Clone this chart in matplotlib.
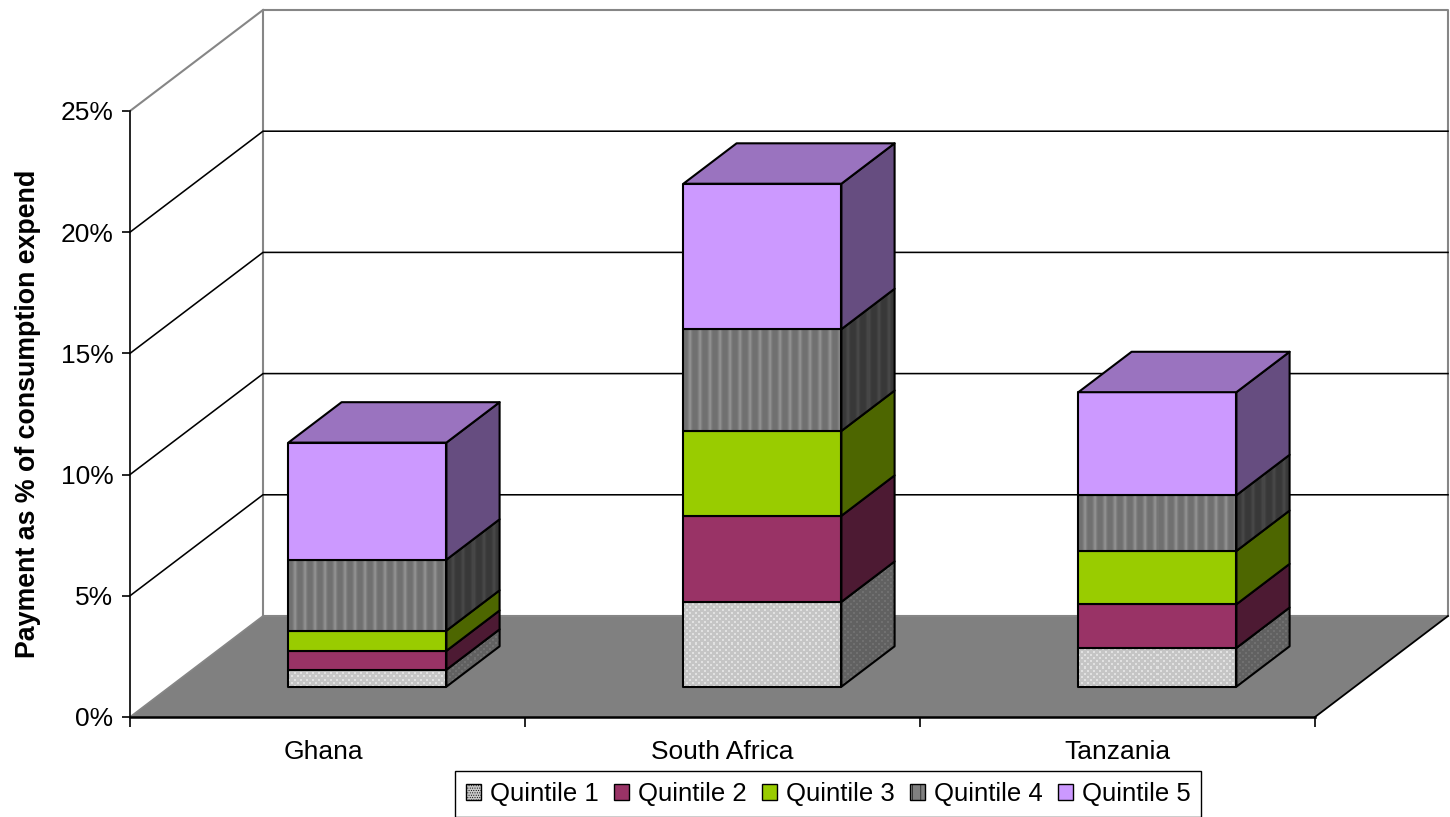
import numpy as np
import matplotlib
matplotlib.use("Agg")
import matplotlib.pyplot as plt
from matplotlib.patches import Patch, Polygon

plt.rcParams['font.family'] = ['Liberation Sans', 'DejaVu Sans']
plt.rcParams['hatch.linewidth'] = 0.4

countries = ["Ghana", "South Africa", "Tanzania"]
quintiles = ["Quintile 1", "Quintile 2", "Quintile 3", "Quintile 4", "Quintile 5"]
q1 = [0.7, 3.5, 1.6]
q2 = [0.78, 3.55, 1.8]
q3 = [0.83, 3.5, 2.2]
q4 = [2.93, 4.2, 2.3]
q5 = [4.83, 6.0, 4.25]
yticks = [0, 5, 10, 15, 20, 25]

# front, side, top colours of each series
front = ["#c8c8c8", "#993366", "#99cc00", "#808080", "#cc99ff"]
side = ["#646464", "#4d1a33", "#4d6600", "#404040", "#664d80"]
top = ["#969696", "#732650", "#739900", "#606060", "#9a73bf"]

# oblique depth of the fake 3d box, in data units
DX = 0.3367
DY = 4.167

# one period of the stripes in the quintile 4 fill
STRIPE = np.array([0.44, 0.44, 0.44, 0.44, 0.46, 0.50, 0.55, 0.56, 0.50, 0.46])


def proj(x, y, d):
    return x + d * DX, y + d * DY


def texture(h, w, kind, dark):
    yy, xx = np.mgrid[0:h, 0:w]
    if kind == "dots":
        img = np.full((h, w), 0.77)
        img[(yy % 6 < 2) & (xx % 6 < 2)] = 0.88
        img[((yy + 3) % 6 < 2) & ((xx + 3) % 6 < 2)] = 0.88
    else:
        img = STRIPE[xx % 10]
    return img * (0.5 if dark else 1.0)


fig = plt.figure(figsize=(14.5, 8.17), dpi=100)
ax = fig.add_axes([130 / 1450, 100 / 817, 1185 / 1450, 606 / 817])
ax.set_xlim(0, 3)
ax.set_ylim(0, 25)


def face(pts, color, z, kind=None, dark=False):
    if kind:
        px = ax.transData.transform(pts)
        x0, y0 = px.min(axis=0)
        x1, y1 = px.max(axis=0)
        w, h = max(int(x1 - x0), 1), max(int(y1 - y0), 1)
        dmin = np.array(pts).min(axis=0)
        dmax = np.array(pts).max(axis=0)
        im = ax.imshow(texture(h, w, kind, dark), cmap="gray", vmin=0, vmax=1,
                       extent=[dmin[0], dmax[0], dmin[1], dmax[1]], aspect="auto",
                       interpolation="nearest", zorder=z, origin="lower")
        clip = Polygon(pts, closed=True, transform=ax.transData)
        im.set_clip_path(clip)
        im.set_clip_on(True)
        color = "none"
    ax.add_patch(Polygon(pts, closed=True, facecolor=color, edgecolor="black",
                         linewidth=1.5, zorder=z + 0.1, clip_on=False, joinstyle="round"))


# walls and floor
floor = [proj(0, 0, 0), proj(3, 0, 0), proj(3, 0, 1), proj(0, 0, 1)]
ax.add_patch(Polygon(floor, closed=True, facecolor="#808080", edgecolor="none", zorder=1, clip_on=False))
wall_x, wall_y = zip(proj(0, 0, 1), proj(0, 25, 1), proj(3, 25, 1), proj(3, 0, 1), proj(0, 0, 1))
ax.plot(wall_x, wall_y, color="#868686", lw=1.5, zorder=2, clip_on=False)
ax.plot(*zip(proj(0, 25, 0), proj(0, 25, 1)), color="#868686", lw=1.5, zorder=2, clip_on=False)
ax.plot(*zip(proj(0, 0, 0), proj(0, 0, 1)), color="#868686", lw=1.2, zorder=2, clip_on=False)
ax.plot(*zip(proj(3, 0, 0), proj(3, 0, 1)), color="black", lw=1.3, zorder=2, clip_on=False)
for t in yticks[1:-1]:
    ax.plot(*zip(proj(0, t, 0), proj(0, t, 1), proj(3, t, 1)), color="black", lw=1.15, zorder=2, clip_on=False)

# stacked bars, drawn bottom up
series = [q1, q2, q3, q4, q5]
kinds = ["dots", None, None, "stripes", None]
hw = 0.2
d0, d1 = 0.3, 0.7
z = 3
for i in range(len(countries)):
    base = 0.0
    cx = i + 0.5
    for j in range(len(series)):
        v = series[j][i]
        xl, xr = cx - hw, cx + hw
        front_pts = [proj(xl, base, d0), proj(xr, base, d0), proj(xr, base + v, d0), proj(xl, base + v, d0)]
        side_pts = [proj(xr, base, d0), proj(xr, base, d1), proj(xr, base + v, d1), proj(xr, base + v, d0)]
        face(side_pts, side[j], z, kinds[j], True)
        face(front_pts, front[j], z + 1, kinds[j], False)
        z += 2
        base += v
    top_pts = [proj(xl, base, d0), proj(xr, base, d0), proj(xr, base, d1), proj(xl, base, d1)]
    face(top_pts, top[-1], z)
    z += 2

ax.set_xlim(0, 3)
ax.set_ylim(0, 25)
ax.patch.set_alpha(0)
for s in ["top", "right"]:
    ax.spines[s].set_visible(False)
ax.spines["left"].set_linewidth(1.2)
ax.spines["bottom"].set_linewidth(1.8)
ax.set_yticks(yticks)
ax.set_yticklabels([f"{t}%" for t in yticks], fontsize=19)
ax.set_xticks([0, 1, 2, 3])
ax.set_xticklabels([])
ax.set_xticks([0.49, 1.5, 2.5], minor=True)
ax.set_xticklabels(countries, minor=True, fontsize=19)
ax.tick_params(axis="y", length=6, width=1.2, pad=6)
ax.tick_params(axis="x", which="major", length=7, width=1.2)
ax.tick_params(axis="x", which="minor", length=0, pad=16.5)
ax.set_ylabel("Payment as % of consumption expend", fontsize=19.3, fontweight="bold")
ax.yaxis.set_label_coords(-0.0755, 0.5)

handles = [Patch(facecolor=front[0], edgecolor="black", hatch="......."),
           Patch(facecolor=front[1], edgecolor="black"),
           Patch(facecolor=front[2], edgecolor="black"),
           Patch(facecolor=front[3], edgecolor="black", hatch="||"),
           Patch(facecolor=front[4], edgecolor="black")]
fig.legend(handles, quintiles, ncol=5, loc="lower left", bbox_to_anchor=(455 / 1450, 0), borderaxespad=0,
           fontsize=18.5, frameon=True, fancybox=False, framealpha=1, edgecolor="black",
           handlelength=0.58, handleheight=0.58, handletextpad=0.35, columnspacing=0.6,
           borderpad=0.42)

fig.savefig("out.png", dpi=100, facecolor="white")
